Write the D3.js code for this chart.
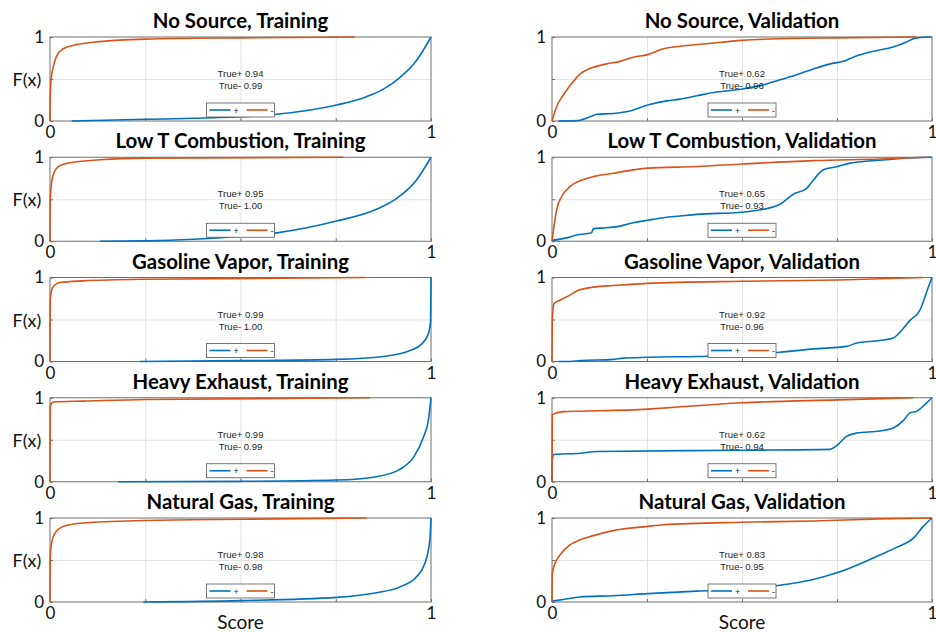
<!DOCTYPE html>
<html>
<head>
<meta charset="utf-8">
<script src="https://cdn.jsdelivr.net/npm/d3@7"></script>
<style>
  html, body { margin: 0; padding: 0; background: #fff; }
  svg { display: block; }
</style>
</head>
<body>
<svg id="chart" width="936" height="632"></svg>
<script>
// Cumulative distributions of classifier scores for the "+" (positive) and "-" (negative) classes.
// Each point is [score, F(score)].

const sources = ["No Source", "Low T Combustion", "Gasoline Vapor", "Heavy Exhaust", "Natural Gas"];
const phases = ["Training", "Validation"];

// True+ / True- rates per source, [training, validation]
const truePosRates = [[0.94, 0.62], [0.95, 0.65], [0.99, 0.92], [0.99, 0.62], [0.98, 0.83]];
const trueNegRates = [[0.99, 0.96], [1.00, 0.93], [1.00, 0.96], [0.99, 0.94], [0.98, 0.95]];

const axisTickLabels = ["0", "1"];
const legendLabels = ["+", "-"];

// ---- Training ----
const noSourceTrainNeg = [[0,0],[0.0008,0.3],[0.003,0.5],[0.009,0.65],[0.017,0.77],[0.035,0.86],[0.06,0.9],[0.13,0.945],[0.25,0.975],[0.5,0.99],[0.8,1.0]];
const noSourceTrainPos = [[0.057,0],[0.251,0.02],[0.5,0.05],[0.595,0.08],[0.752,0.19],[0.831,0.29],[0.875,0.38],[0.919,0.52],[0.962,0.72],[1,1.0]];

const lowTTrainNeg = [[0,0],[0.0008,0.5],[0.003,0.64],[0.009,0.8],[0.026,0.9],[0.061,0.94],[0.131,0.97],[0.251,0.99],[0.77,1.0]];
const lowTTrainPos = [[0.131,0],[0.251,0.005],[0.5,0.06],[0.595,0.1],[0.752,0.24],[0.857,0.38],[0.91,0.51],[0.962,0.73],[1,1.0]];

const gasolineTrainNeg = [[0,0],[0.0008,0.75],[0.007,0.88],[0.026,0.94],[0.087,0.96],[0.251,0.98],[0.827,1.0]];
const gasolineTrainPos = [[0.236,0],[0.5,0.01],[0.752,0.025],[0.875,0.06],[0.945,0.13],[0.976,0.21],[0.993,0.33],[0.999,0.49],[1,1.0]];

const heavyTrainNeg = [[0,0],[0.0008,0.9],[0.009,0.95],[0.087,0.96],[0.251,0.98],[0.84,1.0]];
const heavyTrainPos = [[0.179,0],[0.5,0.005],[0.752,0.02],[0.857,0.06],[0.919,0.15],[0.954,0.29],[0.98,0.53],[0.993,0.73],[1,1.0]];

const natGasTrainNeg = [[0,0],[0.0008,0.54],[0.004,0.7],[0.013,0.82],[0.035,0.9],[0.087,0.94],[0.251,0.97],[0.5,0.985],[0.831,1.0]];
const natGasTrainPos = [[0.245,0],[0.5,0.016],[0.752,0.055],[0.857,0.11],[0.919,0.18],[0.962,0.3],[0.984,0.46],[0.997,0.74],[1,1.0]];

// ---- Validation ----
const noSourceValNeg = [[0,0],[0.012,0.17],[0.03,0.31],[0.056,0.47],[0.074,0.56],[0.1,0.625],[0.144,0.68],[0.179,0.71],[0.214,0.76],[0.252,0.79],[0.293,0.86],[0.337,0.89],[0.407,0.92],[0.5,0.96],[0.6,0.98],[0.752,0.99],[0.96,1.0]];
const noSourceValPos = [[0.017,0],[0.065,0.005],[0.1,0.05],[0.118,0.08],[0.161,0.09],[0.205,0.12],[0.252,0.19],[0.302,0.24],[0.337,0.26],[0.381,0.3],[0.425,0.34],[0.5,0.38],[0.556,0.43],[0.6,0.49],[0.644,0.55],[0.688,0.62],[0.732,0.68],[0.767,0.71],[0.793,0.76],[0.846,0.83],[0.898,0.88],[0.933,0.94],[0.951,0.98],[0.986,1.0],[1,1.0]];

const lowTValNeg = [[0,0],[0.005,0.17],[0.012,0.37],[0.025,0.53],[0.047,0.65],[0.074,0.72],[0.109,0.77],[0.161,0.81],[0.214,0.85],[0.252,0.87],[0.381,0.89],[0.5,0.92],[0.688,0.96],[0.863,0.98],[0.986,1.0]];
const lowTValPos = [[0,0.01],[0.039,0.04],[0.065,0.075],[0.104,0.1],[0.109,0.15],[0.144,0.16],[0.179,0.18],[0.214,0.22],[0.252,0.25],[0.293,0.28],[0.337,0.3],[0.381,0.32],[0.5,0.345],[0.556,0.38],[0.6,0.44],[0.635,0.56],[0.67,0.63],[0.688,0.73],[0.714,0.85],[0.752,0.89],[0.784,0.93],[0.819,0.95],[0.881,0.97],[0.916,0.985],[1,1.0]];

const gasolineValNeg = [[0,0],[0.0008,0.47],[0.005,0.69],[0.021,0.73],[0.047,0.79],[0.065,0.84],[0.109,0.885],[0.161,0.905],[0.252,0.93],[0.5,0.955],[0.752,0.97],[0.977,1.0]];
const gasolineValPos = [[0.017,0],[0.047,0],[0.074,0.01],[0.161,0.025],[0.188,0.04],[0.252,0.05],[0.381,0.06],[0.5,0.075],[0.6,0.11],[0.688,0.15],[0.775,0.18],[0.802,0.22],[0.863,0.25],[0.898,0.28],[0.916,0.35],[0.942,0.49],[0.968,0.61],[0.99,0.88],[1,1.0]];

const heavyValNeg = [[0,0],[0.0008,0.8],[0.012,0.82],[0.03,0.835],[0.074,0.84],[0.252,0.865],[0.302,0.88],[0.5,0.94],[0.752,0.975],[0.951,1.0]];
const heavyValPos = [[0,0],[0.0008,0.27],[0.005,0.325],[0.074,0.34],[0.118,0.36],[0.5,0.375],[0.732,0.385],[0.749,0.43],[0.775,0.54],[0.802,0.58],[0.863,0.605],[0.898,0.64],[0.925,0.73],[0.942,0.82],[0.96,0.84],[0.986,0.94],[1,1.0]];

const natGasValNeg = [[0,0],[0.0008,0.34],[0.008,0.46],[0.021,0.56],[0.047,0.68],[0.074,0.74],[0.109,0.79],[0.161,0.85],[0.252,0.9],[0.293,0.92],[0.5,0.95],[0.688,0.965],[0.863,0.99],[1,1.0]];
const natGasValPos = [[0,0.01],[0.03,0.03],[0.074,0.06],[0.161,0.075],[0.252,0.1],[0.381,0.13],[0.5,0.15],[0.6,0.2],[0.679,0.26],[0.752,0.35],[0.819,0.47],[0.863,0.56],[0.907,0.65],[0.951,0.76],[0.977,0.9],[1,1.0]];

// rows = sources, columns = phases, each cell = [positive, negative]
const curves = [
  [[noSourceTrainPos, noSourceTrainNeg], [noSourceValPos, noSourceValNeg]],
  [[lowTTrainPos, lowTTrainNeg], [lowTValPos, lowTValNeg]],
  [[gasolineTrainPos, gasolineTrainNeg], [gasolineValPos, gasolineValNeg]],
  [[heavyTrainPos, heavyTrainNeg], [heavyValPos, heavyValNeg]],
  [[natGasTrainPos, natGasTrainNeg], [natGasValPos, natGasValNeg]]
];

const seriesColors = ["#0072BD", "#D95319"];
const titleFont = "Lato, 'Open Sans', sans-serif";
const noteFont = "'Liberation Sans', Arial, sans-serif";

const svg = d3.select("#chart");

const colLeft = [50, 552];
const colWidth = [381, 380];
const rowTop = 37, rowStep = 120.25, panelH = 84;

sources.forEach((src, r) => {
  phases.forEach((phase, c) => {
    const x0 = colLeft[c], w = colWidth[c];
    const top = rowTop + r * rowStep;
    const x = d3.scaleLinear().domain([0, 1]).range([x0, x0 + w]);
    const y = d3.scaleLinear().domain([0, 1]).range([top + panelH, top]);

    const g = svg.append("g");

    // grid
    g.append("g")
      .attr("transform", `translate(0,${top + panelH})`)
      .call(d3.axisBottom(x).tickValues([0.25, 0.5, 0.75]).tickSize(-panelH).tickFormat(""))
      .call(a => a.select(".domain").remove())
      .call(a => a.selectAll("line").attr("stroke", "#e3e3e3").attr("stroke-width", 1));
    g.append("g")
      .attr("transform", `translate(${x0},0)`)
      .call(d3.axisLeft(y).tickValues([0.5]).tickSize(-w).tickFormat(""))
      .call(a => a.select(".domain").remove())
      .call(a => a.selectAll("line").attr("stroke", "#e3e3e3").attr("stroke-width", 1));

    // frame
    g.append("rect")
      .attr("x", x(0)).attr("y", y(1))
      .attr("width", x(1) - x(0)).attr("height", y(0) - y(1))
      .attr("fill", "none").attr("stroke", "#6e6e6e").attr("stroke-width", 1);

    // small inward ticks
    const xAx = g.append("g")
      .attr("transform", `translate(0,${top + panelH})`)
      .call(d3.axisBottom(x).tickValues([0, 0.25, 0.5, 0.75, 1]).tickSize(-3).tickPadding(5)
        .tickFormat(d => d === 0 ? axisTickLabels[0] : d === 1 ? axisTickLabels[1] : ""));
    xAx.select(".domain").remove();
    xAx.selectAll("line").attr("stroke", "#6e6e6e");
    xAx.selectAll("text").attr("font-family", titleFont).attr("font-size", 17).attr("fill", "#111");

    const yAx = g.append("g")
      .attr("transform", `translate(${x0},0)`)
      .call(d3.axisLeft(y).tickValues([0, 0.5, 1]).tickSize(-3).tickPadding(6)
        .tickFormat(d => d === 0 ? axisTickLabels[0] : d === 1 ? axisTickLabels[1] : ""));
    yAx.select(".domain").remove();
    yAx.selectAll("line").attr("stroke", "#6e6e6e");
    yAx.selectAll("text").attr("font-family", titleFont).attr("font-size", 17).attr("fill", "#111");

    // curves
    const line = d3.line().x(d => x(d[0])).y(d => y(d[1])).curve(d3.curveMonotoneX);
    curves[r][c].forEach((pts, k) => {
      g.append("path").datum(pts)
        .attr("d", line)
        .attr("fill", "none")
        .attr("stroke", seriesColors[k])
        .attr("stroke-width", 1.6)
        .attr("stroke-linejoin", "round");
    });

    // rates annotation
    const cx = x(0.5), cy = y(0.5);
    g.append("text").attr("x", cx).attr("y", cy - 5.5)
      .attr("text-anchor", "middle").attr("dominant-baseline", "central")
      .attr("font-family", noteFont).attr("font-size", 9.5).attr("fill", "#262626")
      .text(`True+ ${truePosRates[r][c].toFixed(2)}`);
    g.append("text").attr("x", cx).attr("y", cy + 6.5)
      .attr("text-anchor", "middle").attr("dominant-baseline", "central")
      .attr("font-family", noteFont).attr("font-size", 9.5).attr("fill", "#262626")
      .text(`True- ${trueNegRates[r][c].toFixed(2)}`);

    // legend
    const lw = 68, lh = 14;
    const lx = cx - lw / 2, ly = top + panelH - 4 - lh;
    const leg = g.append("g").attr("transform", `translate(${lx},${ly})`);
    leg.append("rect").attr("width", lw).attr("height", lh)
      .attr("fill", "#fff").attr("stroke", "#555").attr("stroke-width", 0.8);
    [0, 1].forEach(k => {
      const off = 3 + k * 37;
      leg.append("line").attr("x1", off).attr("x2", off + 21)
        .attr("y1", lh / 2).attr("y2", lh / 2)
        .attr("stroke", seriesColors[k]).attr("stroke-width", 1.6);
      leg.append("text").attr("x", off + 24).attr("y", lh / 2 + 0.5)
        .attr("dominant-baseline", "central")
        .attr("font-family", noteFont).attr("font-size", 9).attr("fill", "#262626")
        .text(legendLabels[k]);
    });

    // title
    g.append("text").attr("x", cx).attr("y", top - 9)
      .attr("text-anchor", "middle")
      .attr("font-family", titleFont).attr("font-weight", "bold").attr("font-size", 20.4)
      .attr("fill", "#000")
      .text(`${src}, ${phase}`);

    if (c === 0) {
      g.append("text").attr("x", 27).attr("y", cy)
        .attr("text-anchor", "middle").attr("dominant-baseline", "central")
        .attr("font-family", titleFont).attr("font-size", 18).attr("fill", "#111")
        .text("F(x)");
    }
    if (r === sources.length - 1) {
      g.append("text").attr("x", cx).attr("y", top + panelH + 27)
        .attr("text-anchor", "middle")
        .attr("font-family", titleFont).attr("font-size", 19).attr("fill", "#111")
        .text("Score");
    }
  });
});
</script>
</body>
</html>
